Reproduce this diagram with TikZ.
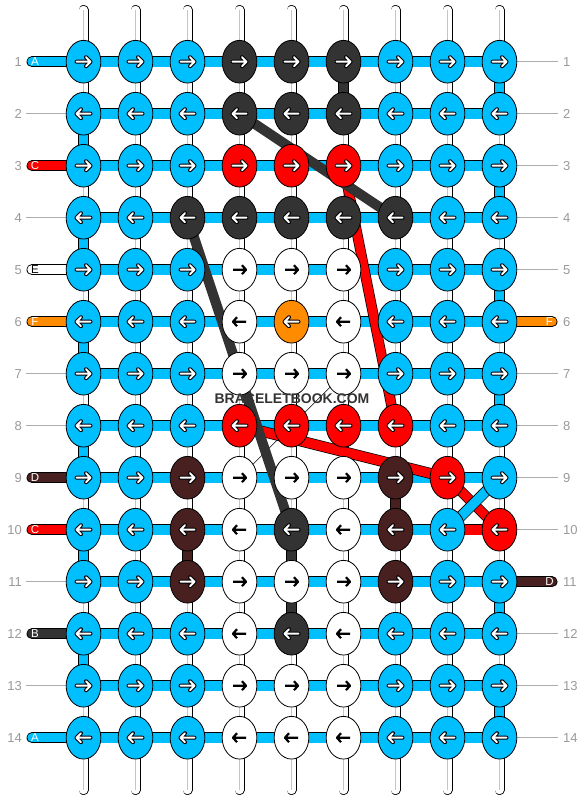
\documentclass[tikz,border=0pt]{standalone}
\usepackage{fontspec}
\setmainfont{Liberation Sans}
\usetikzlibrary{shapes.geometric}
\definecolor{kblue}{RGB}{0,191,255}
\definecolor{kred}{RGB}{255,0,0}
\definecolor{kdark}{RGB}{51,51,51}
\definecolor{kbrown}{RGB}{72,32,32}
\definecolor{korange}{RGB}{255,140,0}
\definecolor{rowgray}{RGB}{153,153,153}
\tikzset{knot/.style={ellipse, draw=black, line width=0.8pt, minimum width=34.7pt, minimum height=42.7pt, inner sep=0pt},
kb/.style={fill=kblue}, kd/.style={fill=kdark}, kr/.style={fill=kred},
kn/.style={fill=kbrown}, ko/.style={fill=korange}, kw/.style={fill=white}}
\tikzset{stringout/.style={line width=10pt, line cap=round, black},
stringin/.style={line width=8.4pt, line cap=round, white},
stringmid/.style={line width=0.8pt, gray!45},
bandout/.style={line width=11.4pt, black},
band/.style={line width=9.8pt},
tabout/.style={line width=11pt, line cap=round, black},
tab/.style={line width=9.4pt, line cap=round},
rowline/.style={line width=0.9pt, rowgray!80},
rownum/.style={text=rowgray, font=\fontsize{13}{13}\selectfont, inner sep=0pt},
tabtext/.style={font=\fontsize{11.5}{11.5}\selectfont, inner sep=0pt}}
\tikzset{arrowwhite/.pic={
  \draw[black, line width=4pt, line cap=round, line join=round] (-7,0) -- (7,0) (2.5,-4.5) -- (7,0) -- (2.5,4.5);
  \draw[white, line width=2pt, line cap=round, line join=round] (-7,0) -- (7,0) (2.5,-4.5) -- (7,0) -- (2.5,4.5);},
arrowblack/.pic={
  \draw[black, line width=2.2pt, line join=round] (-6.5,0) -- (6.5,0) (2.5,-4.5) -- (6.5,0) -- (2.5,4.5);}}
\def\whiteknot{kw}

\begin{document}
\begin{tikzpicture}[x=1pt, y=-1pt]
    \useasboundingbox (0,0) rectangle (584,800);
    % Grid points
    \foreach \r in {1,...,14} {
        \foreach \c in {1,...,9} {
            \coordinate (p-\r-\c) at ({83.5+52*(\c-1)}, {61.7+52*(\r-1)});
        }
    }
    % Vertical strings
    \foreach \c in {1,...,9} {
        \coordinate (top-\c) at ({83.5+52*(\c-1)}, 10);
        \coordinate (bot-\c) at ({83.5+52*(\c-1)}, 790);
        \draw[stringout] (top-\c) -- (bot-\c);
        \draw[stringin] (top-\c) -- (bot-\c);
        \draw[stringmid] (top-\c) -- (bot-\c);
    }
    % Rows
    \foreach \r in {1,...,14} {
        \draw[bandout] (p-\r-1) -- (p-\r-9);
        \draw[band, kblue] (p-\r-1) -- (p-\r-9);
    }
    \draw[band, kred] (p-10-8) -- (p-10-9);
    % Coloured pieces between rows
    \foreach \c/\r/\col in {
        9/1/kblue, 9/3/kblue, 9/5/kblue, 9/7/kblue, 9/11/kblue, 9/13/kblue,
        1/2/kblue, 1/4/kblue, 1/6/kblue, 1/8/kblue, 1/10/kblue, 1/12/kblue,
        6/1/kdark, 5/10/kdark, 5/11/kdark, 7/9/kbrown, 3/10/kbrown} {
        \pgfmathtruncatemacro\rn{\r+1}
        \draw[bandout] (p-\r-\c) -- (p-\rn-\c);
        \draw[band, \col] (p-\r-\c) -- (p-\rn-\c);
    }
    % Strings passing behind
    \draw[black, line width=0.5pt] (p-7-6) -- (p-9-4);
    \draw[black, line width=10.5pt] (p-3-6) -- (p-8-7);
    \draw[kred, line width=9pt] (p-3-6) -- (p-8-7);
    \draw[black, line width=11pt] (p-8-4) -- (p-9-8);
    \draw[kred, line width=9.5pt] (p-8-4) -- (p-9-8);
    \draw[black, line width=10.5pt] (p-9-8) -- (p-10-9);
    \draw[kred, line width=9pt] (p-9-8) -- (p-10-9);
    \draw[kdark, line width=10pt] (p-2-4) -- (p-4-7);
    \draw[kdark, line width=10pt] (p-4-3) -- (p-10-5);
    \draw[black, line width=11pt] (p-9-9) -- (p-10-8);
    \draw[kblue, line width=9.4pt] (p-9-9) -- (p-10-8);
    % Labels left
    \foreach \r/\col/\txt/\tc in {1/kblue/A/white, 3/kred/C/white, 5/white/E/black, 6/korange/F/white,
        9/kbrown/D/white, 10/kred/C/white, 12/kdark/B/white, 14/kblue/A/white} {
        \coordinate (lt-\r) at (32, {61.7+52*(\r-1)});
        \draw[tabout] (lt-\r) -- (p-\r-1);
        \draw[tab, \col] (lt-\r) -- (p-\r-1);
        \node[tabtext, text=\tc] (ll-\r) at ([xshift=3pt]lt-\r) {\txt};
    }
    \foreach \r in {2,4,7,8,11,13} {
        \coordinate (gl-\r) at (26, {61.7+52*(\r-1)});
        \draw[rowline] (gl-\r) -- (p-\r-1);
    }
    % Labels right
    \foreach \r/\col/\txt in {6/korange/F, 11/kbrown/D} {
        \coordinate (rt-\r) at (552, {61.7+52*(\r-1)});
        \draw[tabout] (p-\r-9) -- (rt-\r);
        \draw[tab, \col] (p-\r-9) -- (rt-\r);
        \node[tabtext, text=white] (rl-\r) at ([xshift=-2.5pt]rt-\r) {\txt};
    }
    \foreach \r in {1,2,3,4,5,7,8,9,10,12,13,14} {
        \coordinate (gr-\r) at (558, {61.7+52*(\r-1)});
        \draw[rowline] (p-\r-9) -- (gr-\r);
    }
    % Row numbers
    \foreach \r in {1,...,14} {
        \node[rownum, anchor=east] (nl-\r) at (22, {61.7+52*(\r-1)}) {\r};
        \node[rownum, anchor=west] (nr-\r) at (563, {61.7+52*(\r-1)}) {\r};
    }
    % Knots
    \foreach \r/\cols in {
        1/{kb,kb,kb,kd,kd,kd,kb,kb,kb},
        2/{kb,kb,kb,kd,kd,kd,kb,kb,kb},
        3/{kb,kb,kb,kr,kr,kr,kb,kb,kb},
        4/{kb,kb,kd,kd,kd,kd,kd,kb,kb},
        5/{kb,kb,kb,kw,kw,kw,kb,kb,kb},
        6/{kb,kb,kb,kw,ko,kw,kb,kb,kb},
        7/{kb,kb,kb,kw,kw,kw,kb,kb,kb},
        8/{kb,kb,kb,kr,kr,kr,kr,kb,kb},
        9/{kb,kb,kn,kw,kw,kw,kn,kr,kb},
        10/{kb,kb,kn,kw,kd,kw,kn,kb,kr},
        11/{kb,kb,kn,kw,kw,kw,kn,kb,kb},
        12/{kb,kb,kb,kw,kd,kw,kb,kb,kb},
        13/{kb,kb,kb,kw,kw,kw,kb,kb,kb},
        14/{kb,kb,kb,kw,kw,kw,kb,kb,kb}} {
        \pgfmathtruncatemacro\s{mod(\r,2)==1 ? 1 : -1}
        \foreach \cc [count=\c] in \cols {
            \node[knot, \cc] (k-\r-\c) at (p-\r-\c) {};
            \edef\tmp{\cc}
            \ifx\tmp\whiteknot
                \pic[xscale=\s] at (k-\r-\c) {arrowblack};
            \else
                \pic[xscale=\s] at (k-\r-\c) {arrowwhite};
            \fi
        }
    }
    % Watermark
    \node[text=kdark, font=\bfseries\fontsize{14}{14}\selectfont, inner sep=0pt] (wm) at (292,399) {BRACELETBOOK.COM};
\end{tikzpicture}
\end{document}
